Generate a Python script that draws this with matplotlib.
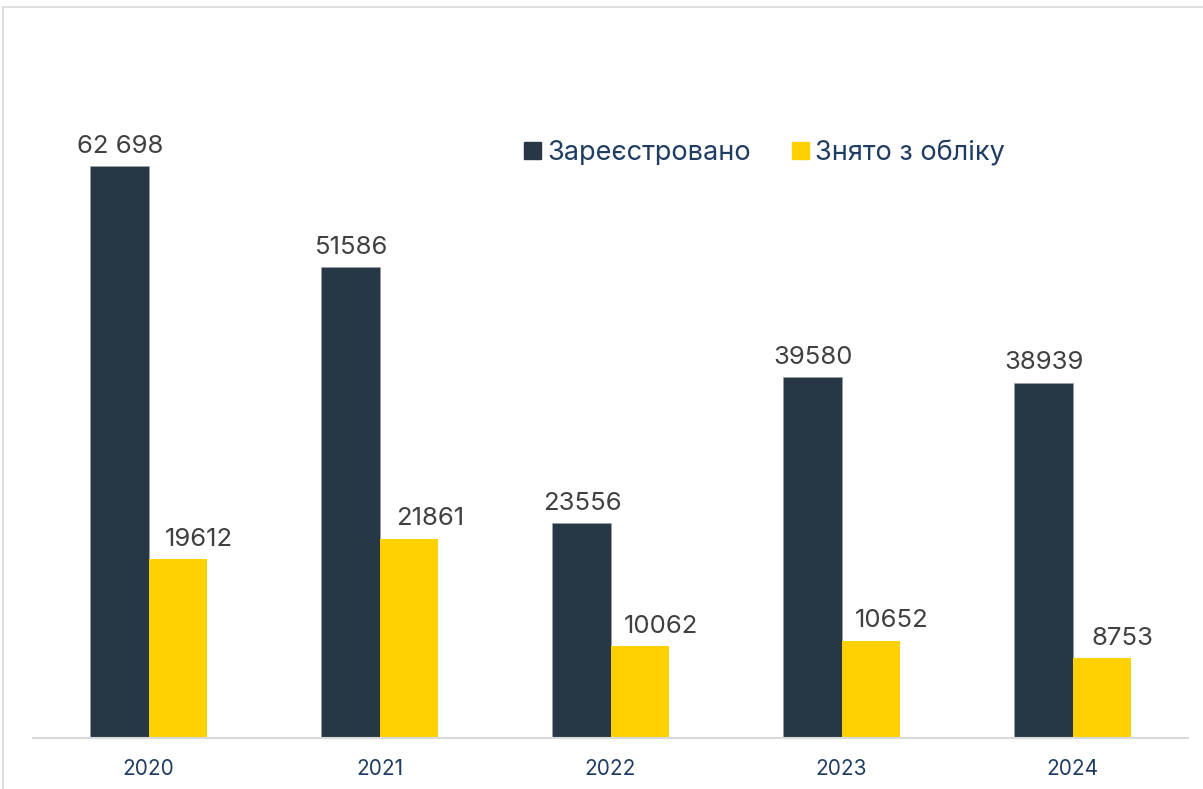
import numpy as np
import matplotlib
matplotlib.use("Agg")
import matplotlib.pyplot as plt
from matplotlib.lines import Line2D
from matplotlib.patches import Patch

plt.rcParams['font.family'] = ['Inter', 'DejaVu Sans']

# data
years = ['2020', '2021', '2022', '2023', '2024']
registered = [62698, 51586, 23556, 39580, 38939]
deregistered = [19612, 21861, 10062, 10652, 8753]
registered_labels = ['62 698', '51586', '23556', '39580', '38939']
deregistered_labels = ['19612', '21861', '10062', '10652', '8753']

dark = '#283746'
yellow = '#FFD100'
label_col = '#404040'
navy_text = '#1F3D62'

W, H = 1203, 789
fig = plt.figure(figsize=(W / 100, H / 100), dpi=100)

# axes in pixel terms
ax_left, ax_right, ax_bottom, ax_top = 33, 1188, 738, 20
ax = fig.add_axes([ax_left / W, 1 - ax_bottom / H,
                   (ax_right - ax_left) / W, (ax_bottom - ax_top) / H])

x = np.arange(len(years))
bw = 0.255
ax.bar(x - bw / 2, registered, bw, color=dark, edgecolor='#9aa3ab', linewidth=0.4)
ax.bar(x + bw / 2, deregistered, bw, color=yellow, linewidth=0)

# scale: 62698 -> 572 px
ymax = 62698 / 572 * (ax_bottom - ax_top)
ax.set_ylim(0, ymax)
ax.set_xlim(-0.5, len(years) - 0.5)

for i in range(len(years)):
    ax.annotate(registered_labels[i], (x[i] - bw / 2, registered[i]),
                xytext=(1, 6), textcoords='offset points', ha='center', va='bottom',
                fontsize=18.5, color=label_col)
    ax.annotate(deregistered_labels[i], (x[i] + bw / 2, deregistered[i]),
                xytext=(15, 6), textcoords='offset points', ha='center', va='bottom',
                fontsize=18.5, color=label_col)

ax.set_xticks(x)
ax.set_xticklabels(years, fontsize=15, color=navy_text)
ax.tick_params(axis='x', length=0, pad=15)
ax.set_yticks([])
for s in ['top', 'right', 'left']:
    ax.spines[s].set_visible(False)
ax.spines['bottom'].set_color('#D9D9D9')
ax.spines['bottom'].set_linewidth(1.5)

handles = [Patch(color=dark), Patch(color=yellow)]
leg = fig.legend(handles, ['Зареєстровано', 'Знято з обліку'],
                 loc='center left', bbox_to_anchor=(524 / W, 1 - 153 / H),
                 ncol=2, frameon=False, fontsize=19.5, handlelength=0.62,
                 handleheight=0.62, handletextpad=0.25, columnspacing=1.5,
                 borderaxespad=0, borderpad=0)
for t in leg.get_texts():
    t.set_color(navy_text)

# outer border lines (top and left)
fig.add_artist(Line2D([3 / W, 1], [1 - 7 / H, 1 - 7 / H], color='#D9D9D9', lw=1.2))
fig.add_artist(Line2D([3 / W, 3 / W], [0, 1 - 7 / H], color='#D9D9D9', lw=1.2))

fig.savefig('out.png', dpi=100)
